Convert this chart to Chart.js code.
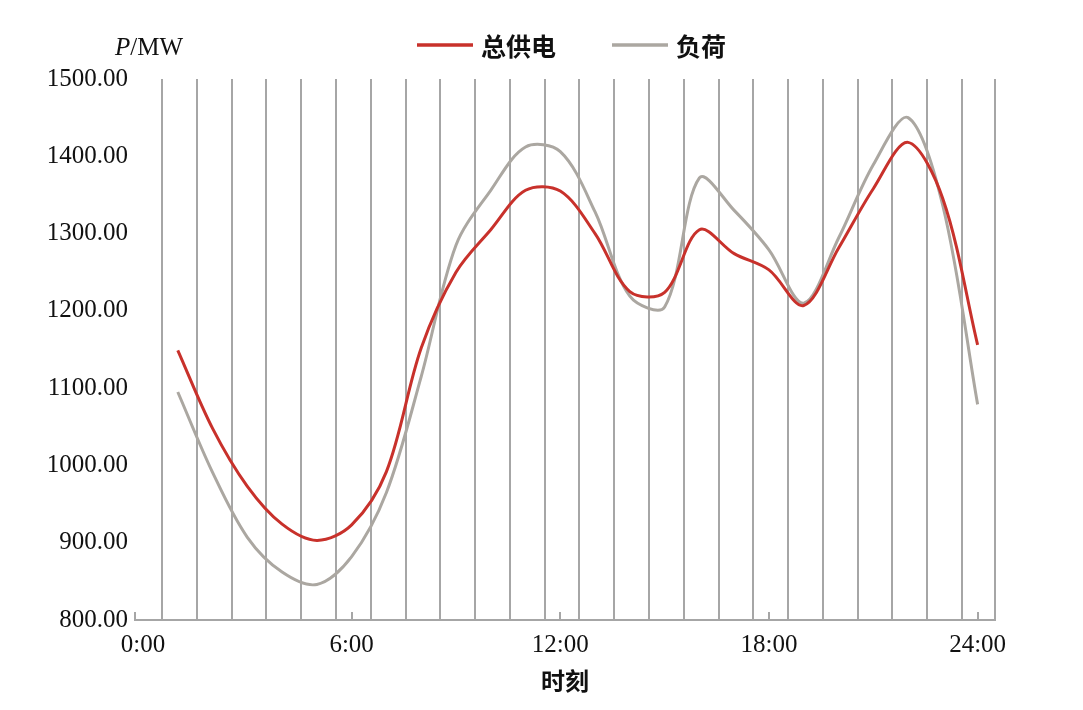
<!DOCTYPE html>
<html>
<head>
<meta charset="utf-8">
<script src="https://cdn.jsdelivr.net/npm/chart.js@4/dist/chart.umd.min.js"></script>
<style>
  html, body { margin: 0; padding: 0; background: #fff; }
  #wrap { width: 1083px; height: 710px; position: relative; }
</style>
</head>
<body>
<div id="wrap"><canvas id="power-chart"></canvas></div>
<script>
// hourly points, 1:00 .. 24:00
const hours = [1, 2, 3, 4, 5, 6, 7, 8, 9, 10, 11, 12, 13, 14, 15, 16, 17, 18, 19, 20, 21, 22, 23, 24];
const supply = [1149, 1048, 973, 924, 903, 923, 992, 1152, 1250, 1305, 1356, 1355, 1300, 1225, 1224, 1305, 1274, 1253, 1207, 1281, 1358, 1418, 1345, 1156];
const load = [1095, 991, 907, 862, 846, 882, 965, 1115, 1285, 1356, 1412, 1406, 1328, 1219, 1205, 1372, 1330, 1279, 1210, 1294, 1389, 1450, 1336, 1079];

const seriesNames = ['总供电', '负荷'];
const tickHours = [0, 6, 12, 18, 24];
const tickLabels = ['0:00', '6:00', '12:00', '18:00', '24:00'];

const X_MIN = -0.23, X_MAX = 24.5;
const gridHours = hours.map(h => h - 0.45).concat([X_MAX]);

const RED = '#c8312b';
const GRAY = '#aba7a1';
const GRID = '#a6a6a6';
const serif = "'Liberation Serif', 'Times New Roman', serif";
const cjk = "'Noto Sans CJK SC', sans-serif";

// legend, unit label and inward tick marks
const decorations = {
    id: 'decorations',
    afterDraw(chart) {
        const ctx = chart.ctx;
        const xs = chart.scales.x;
        const bottom = chart.chartArea.bottom;
        ctx.save();

        // short tick marks pointing up into the plot
        ctx.strokeStyle = GRID;
        ctx.lineWidth = 2;
        [X_MIN, 6, 12, 18, 24].forEach(v => {
            const px = Math.round(xs.getPixelForValue(v));
            ctx.beginPath();
            ctx.moveTo(px, bottom);
            ctx.lineTo(px, bottom - 8);
            ctx.stroke();
        });

        // unit label
        ctx.fillStyle = '#111';
        ctx.textBaseline = 'middle';
        ctx.font = 'italic 25px ' + serif;
        ctx.fillText('P', 115, 48);
        const pw = ctx.measureText('P').width;
        ctx.font = '25px ' + serif;
        ctx.fillText('/MW', 115 + pw, 48);

        // legend
        const items = [
            { x: 417, color: RED, text: seriesNames[0] },
            { x: 612, color: GRAY, text: seriesNames[1] }
        ];
        items.forEach(it => {
            ctx.strokeStyle = it.color;
            ctx.lineWidth = 3.5;
            ctx.beginPath();
            ctx.moveTo(it.x, 45);
            ctx.lineTo(it.x + 56, 45);
            ctx.stroke();
            ctx.fillStyle = '#111';
            ctx.font = 'bold 25px ' + cjk;
            ctx.fillText(it.text, it.x + 64, 46);
        });
        ctx.restore();
    }
};

const ctx = document.getElementById('power-chart').getContext('2d');
const chart = new Chart(ctx, {
    type: 'line',
    data: {
        datasets: [
            {
                label: seriesNames[0],
                data: hours.map((h, i) => ({ x: h, y: supply[i] })),
                borderColor: RED,
                backgroundColor: RED,
                borderWidth: 3,
                pointRadius: 0,
                tension: 0.33,
                fill: false
            },
            {
                label: seriesNames[1],
                data: hours.map((h, i) => ({ x: h, y: load[i] })),
                borderColor: GRAY,
                backgroundColor: GRAY,
                borderWidth: 3,
                pointRadius: 0,
                tension: 0.33,
                fill: false
            }
        ]
    },
    options: {
        responsive: true,
        maintainAspectRatio: false,
        animation: false,
        layout: { padding: { top: 79, right: 88, left: 0, bottom: 0 } },
        plugins: {
            legend: { display: false },
            tooltip: { enabled: false }
        },
        scales: {
            x: {
                type: 'linear',
                min: X_MIN,
                max: X_MAX,
                afterBuildTicks: (scale) => {
                    const vals = gridHours.concat(tickHours).sort((a, b) => a - b);
                    scale.ticks = vals.map(v => ({ value: v }));
                },
                afterFit: (scale) => { scale.height = 90; },
                ticks: {
                    autoSkip: false,
                    maxRotation: 0,
                    padding: 10,
                    color: '#111',
                    font: { family: serif, size: 25 },
                    callback: (v) => {
                        const i = tickHours.indexOf(v);
                        return i >= 0 ? tickLabels[i] : '';
                    }
                },
                grid: {
                    drawTicks: false,
                    lineWidth: 2,
                    color: (c) => (c.tick && tickHours.includes(c.tick.value)) ? 'rgba(0,0,0,0)' : GRID
                },
                border: { display: true, color: GRID, width: 2 },
                title: {
                    display: true,
                    text: '时刻',
                    color: '#111',
                    font: { family: cjk, size: 24, weight: 'bold' },
                    padding: { top: 0, bottom: 15 }
                }
            },
            y: {
                min: 800,
                max: 1500,
                afterFit: (scale) => { scale.width = 135; },
                ticks: {
                    stepSize: 100,
                    padding: 7,
                    color: '#111',
                    font: { family: serif, size: 25 },
                    callback: (v) => v.toFixed(2)
                },
                grid: { display: false, drawTicks: false },
                border: { display: false }
            }
        }
    },
    plugins: [decorations]
});
</script>
</body>
</html>
